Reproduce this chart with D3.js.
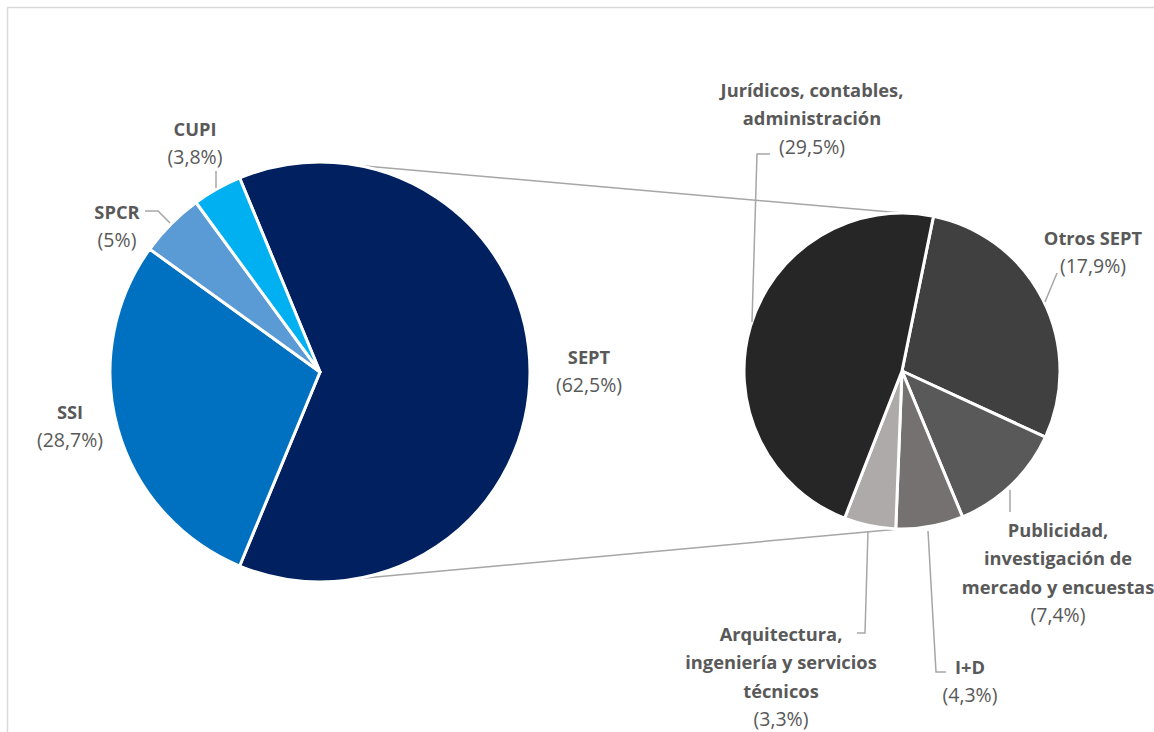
<!DOCTYPE html>
<html>
<head>
<meta charset="utf-8">
<script src="https://cdn.jsdelivr.net/npm/d3@7"></script>
<style>
  html, body { margin: 0; padding: 0; background: #fff; }
  svg { display: block; }
  text { font-family: "Open Sans", Lato, sans-serif; fill: #595959; }
</style>
</head>
<body>
<svg id="chart" width="1154" height="732"></svg>
<script>
// ---- data ----
const mainCategories = ["SEPT", "SSI", "SPCR", "CUPI"];
const mainValues = [62.5, 28.7, 5.0, 3.8];
const mainLabels = ["(62,5%)", "(28,7%)", "(5%)", "(3,8%)"];

const subCategories = ["Otros SEPT", "Publicidad, investigación de mercado y encuestas", "I+D",
  "Arquitectura, ingeniería y servicios técnicos", "Jurídicos, contables, administración"];
const subValues = [17.9, 7.4, 4.3, 3.3, 29.5];
const subLabels = ["(17,9%)", "(7,4%)", "(4,3%)", "(3,3%)", "(29,5%)"];

// ---- styles / layout ----
const mainColors = ["#002060", "#0070C0", "#5B9BD5", "#00B0F0"];
const subColors = ["#404040", "#595959", "#767171", "#AEAAAA", "#262626"];
const deg = Math.PI / 180;
const main = { cx: 320, cy: 372, r: 210, start: -22.5 * deg };
const sub = { cx: 902, cy: 371, r: 158, start: 11.5 * deg };

// label layout: name lines, percent line, center x, first line y
const mainLabelLayout = [
  { lines: ["SEPT"], x: 589, y: 364 },
  { lines: ["SSI"], x: 70, y: 419 },
  { lines: ["SPCR"], x: 117, y: 219 },
  { lines: ["CUPI"], x: 195, y: 136 }
];
const subLabelLayout = [
  { lines: ["Otros SEPT"], x: 1093, y: 245 },
  { lines: ["Publicidad,", "investigación de", "mercado y encuestas"], x: 1058, y: 537 },
  { lines: ["I+D"], x: 970, y: 674 },
  { lines: ["Arquitectura,", "ingeniería y servicios", "técnicos"], x: 781, y: 641 },
  { lines: ["Jurídicos, contables,", "administración"], x: 812, y: 97 }
];
const mainLeaders = [
  null, null,
  [[145, 211], [158, 211], [170, 223]],
  [[216, 171], [216, 188]]
];
const subLeaders = [
  [[1057, 273], [1045, 302]],
  [[1010, 490], [1010, 512]],
  [[928, 531], [936, 672], [946, 672]],
  [[868, 531], [865, 633], [857, 633]],
  [[770, 154], [757, 154], [752, 322]]
];
const lineH = 28.3;

const svg = d3.select("#chart");

// chart border
svg.append("rect").attr("x", 7.5).attr("y", 7.5).attr("width", 1200).attr("height", 800)
  .attr("fill", "none").attr("stroke", "#d9d9d9").attr("stroke-width", 1.5);

function pt(p, ang) { return [p.cx + p.r * Math.sin(ang), p.cy - p.r * Math.cos(ang)]; }

// connector lines
const connectors = [[pt(main, 10 * deg), pt(sub, 0)], [pt(main, 170 * deg), pt(sub, 181 * deg)]];
svg.selectAll("line.conn").data(connectors).join("line").attr("class", "conn")
  .attr("x1", d => d[0][0]).attr("y1", d => d[0][1])
  .attr("x2", d => d[1][0]).attr("y2", d => d[1][1])
  .attr("stroke", "#a6a6a6").attr("stroke-width", 1.5);

function drawPie(p, values, colors) {
  const pie = d3.pie().sort(null).value(d => d).startAngle(p.start).endAngle(p.start + 2 * Math.PI);
  const arc = d3.arc().innerRadius(0).outerRadius(p.r);
  svg.append("g").attr("transform", `translate(${p.cx},${p.cy})`)
    .selectAll("path").data(pie(values)).join("path")
    .attr("d", arc).attr("fill", (d, i) => colors[i])
    .attr("stroke", "#fff").attr("stroke-width", 3).attr("stroke-linejoin", "round");
}
drawPie(main, mainValues, mainColors);
drawPie(sub, subValues, subColors);

// leader lines
const leaderLine = d3.line();
[...mainLeaders, ...subLeaders].forEach(l => {
  if (!l) return;
  svg.append("path").attr("d", leaderLine(l)).attr("fill", "none")
    .attr("stroke", "#a6a6a6").attr("stroke-width", 1.5);
});

function drawLabels(layout, pcts) {
  layout.forEach((L, i) => {
    const t = svg.append("text").attr("text-anchor", "middle").attr("font-size", 18.3);
    L.lines.forEach((ln, j) => {
      t.append("tspan").attr("x", L.x).attr("y", L.y + j * lineH).attr("font-weight", "bold").text(ln);
    });
    t.append("tspan").attr("x", L.x).attr("y", L.y + L.lines.length * lineH)
      .attr("font-size", 19.5).text(pcts[i]);
  });
}
drawLabels(mainLabelLayout, mainLabels);
drawLabels(subLabelLayout, subLabels);
</script>
</body>
</html>
